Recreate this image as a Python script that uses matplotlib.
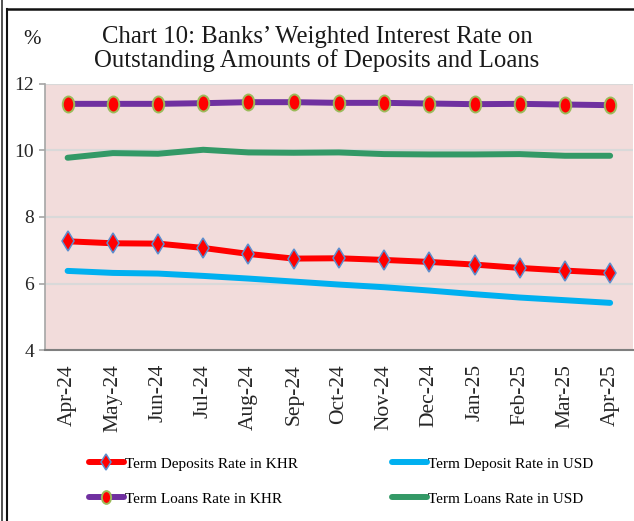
import matplotlib
matplotlib.use("Agg")
import matplotlib.pyplot as plt
from matplotlib.lines import Line2D
from matplotlib.path import Path
from matplotlib.transforms import Affine2D

months = ["Apr-24", "May-24", "Jun-24", "Jul-24", "Aug-24", "Sep-24", "Oct-24",
          "Nov-24", "Dec-24", "Jan-25", "Feb-25", "Mar-25", "Apr-25"]
dep_khr = [7.27, 7.21, 7.20, 7.07, 6.89, 6.75, 6.76, 6.71, 6.65, 6.57, 6.47, 6.39, 6.32]
dep_usd = [6.38, 6.32, 6.30, 6.23, 6.15, 6.06, 5.97, 5.89, 5.79, 5.68, 5.58, 5.50, 5.42]
loan_khr = [11.40, 11.40, 11.40, 11.42, 11.45, 11.45, 11.43, 11.43, 11.41, 11.39, 11.40, 11.38, 11.36]
loan_usd = [9.78, 9.92, 9.90, 10.02, 9.94, 9.93, 9.94, 9.89, 9.88, 9.88, 9.89, 9.84, 9.84]

plt.rcParams['font.family'] = ['Liberation Serif', 'DejaVu Serif']

fig = plt.figure(figsize=(6.34, 5.21), dpi=100)
ax = fig.add_axes([0.071, 0.328, 0.927, 0.511])
ax.set_facecolor('#F2DCDB')

x = list(range(len(months)))

# tall ellipse marker for loans rate
ell = Path.unit_circle().transformed(Affine2D().scale(0.72, 1.0))

ax.plot(x, dep_usd, color='#00B0F0', lw=4.3, solid_capstyle='round', solid_joinstyle='round',
        label='Term Deposit Rate in USD', zorder=3)
ax.plot(x, loan_usd, color='#339966', lw=4.3, solid_capstyle='round', solid_joinstyle='round',
        label='Term Loans Rate in USD', zorder=3)
ax.plot(x, dep_khr, color='#FF0000', lw=4.3, solid_capstyle='round', solid_joinstyle='round',
        marker='d', markersize=10.5, markerfacecolor='#FF0000', markeredgecolor='#5B8FD0',
        markeredgewidth=1.1, label='Term Deposits Rate in KHR', zorder=4)
ax.plot(x, loan_khr, color='#7030A0', lw=4.3, solid_capstyle='round', solid_joinstyle='round',
        marker=ell, markersize=11.5, markerfacecolor='#FF0000', markeredgecolor='#9BBB59',
        markeredgewidth=1.4, label='Term Loans Rate in KHR', zorder=4)

ax.set_xlim(-0.5, len(months) - 0.5)
ax.set_ylim(4, 12)
ax.set_yticks([4, 6, 8, 10, 12])
ax.set_xticks(x)
ax.set_xticklabels(months, rotation=90, fontsize=15.5)
ax.tick_params(axis='y', labelsize=14, length=4, width=1.2, color='#A6A6A6', pad=4,
               labelcolor='#262626')
ax.tick_params(axis='x', length=0, pad=10, labelcolor='#262626')
ax.grid(axis='y', color='#D9D9D9', lw=1.5, zorder=1)
ax.set_axisbelow(True)
for s in ['top', 'right']:
    ax.spines[s].set_visible(False)
ax.spines['left'].set_color('#A6A6A6')
ax.spines['left'].set_linewidth(1.2)
ax.spines['bottom'].set_color('#7F7F7F')
ax.spines['bottom'].set_linewidth(1.5)

fig.text(0.5, 0.906, "Chart 10: Banks\u2019 Weighted Interest Rate on\nOutstanding Amounts of Deposits and Loans",
         ha='center', va='center', fontsize=17.8, linespacing=1.06, color='#1a1a1a')
fig.text(0.05, 0.925, "%", ha='center', va='center', fontsize=15, color='#1a1a1a')

h, l = ax.get_legend_handles_labels()
order = {lab: hh for hh, lab in zip(h, l)}
leg1 = fig.legend([order['Term Deposits Rate in KHR'], order['Term Loans Rate in KHR']],
                  ['Term Deposits Rate in KHR', 'Term Loans Rate in KHR'],
                  loc='upper left', bbox_to_anchor=(0.14, 0.123), frameon=False,
                  fontsize=11, handlelength=2.3, handletextpad=0.1, labelspacing=1.4,
                  borderpad=0, borderaxespad=0, markerscale=0.8)
leg2 = fig.legend([order['Term Deposit Rate in USD'], order['Term Loans Rate in USD']],
                  ['Term Deposit Rate in USD', 'Term Loans Rate in USD'],
                  loc='upper left', bbox_to_anchor=(0.618, 0.123), frameon=False,
                  fontsize=11, handlelength=2.3, handletextpad=0.1, labelspacing=1.4,
                  borderpad=0, borderaxespad=0)

# outer frame lines
fig.add_artist(Line2D([0.003, 0.003], [0, 1], color='#333333', lw=1.2, transform=fig.transFigure))
fig.add_artist(Line2D([0.011, 0.011], [0, 0.983], color='#111111', lw=1.5, transform=fig.transFigure))
fig.add_artist(Line2D([0.011, 1], [0.983, 0.983], color='#111111', lw=1.8, transform=fig.transFigure))

fig.savefig("out.png", dpi=100)
